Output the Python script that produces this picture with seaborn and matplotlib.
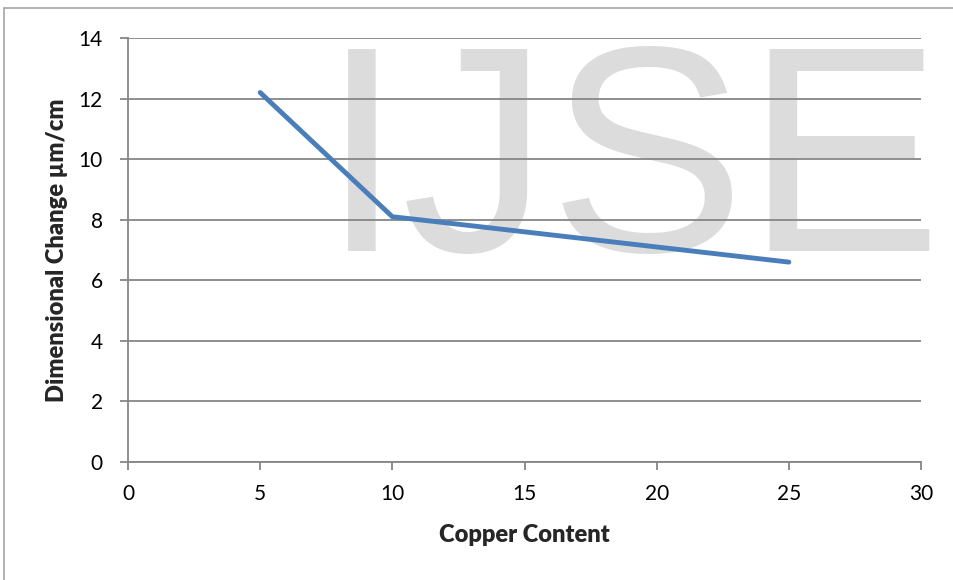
#!/usr/bin/env python3
# coding: utf-8

import pandas as pd
import matplotlib
matplotlib.use("Agg")
import matplotlib.pyplot as plt
import seaborn as sns
from matplotlib.lines import Line2D

# values
copper_content = [5, 10, 15, 20, 25]
dimensional_change = [12.2, 8.1, 7.6, 7.1, 6.6]
x_ticks = [0, 5, 10, 15, 20, 25, 30]
y_ticks = [0, 2, 4, 6, 8, 10, 12, 14]

df = pd.DataFrame({"Copper Content": copper_content,
                   "Dimensional Change": dimensional_change})

sns.set_theme(style="white")
plt.rcParams["font.family"] = ["Lato", "DejaVu Sans"]

grey = "#868686"

fig = plt.figure(figsize=(9.54, 5.80), dpi=100)
ax = fig.add_axes([128 / 954, 1 - 462 / 580, (921 - 128) / 954, (462 - 38) / 580])

# watermark: light grey letters over the grid, under the data line
fig.text(632 / 954, 1 - 251 / 580, "IJSE", fontsize=212, color="#d9d9d9",
         ha="center", va="baseline", family="Liberation Sans", zorder=1, alpha=0.9)

ax.set_zorder(2)
ax.patch.set_alpha(0)

sns.lineplot(data=df, x="Copper Content", y="Dimensional Change", ax=ax,
             color="#4a7ebb", linewidth=3.5, solid_capstyle="round", zorder=3)

ax.set_xlim(0, 30)
ax.set_ylim(0, 14)
ax.set_xticks(x_ticks)
ax.set_yticks(y_ticks)
ax.yaxis.grid(True, color=grey, linewidth=1.3)
ax.set_axisbelow(True)

for side in ["top", "right"]:
    ax.spines[side].set_visible(False)
for side in ["left", "bottom"]:
    ax.spines[side].set_color(grey)
    ax.spines[side].set_linewidth(1.3)

ax.tick_params(axis="both", direction="out", length=6, width=1.3, color=grey,
               labelsize=15, labelcolor="black")
ax.tick_params(axis="x", bottom=True, pad=10)
ax.tick_params(axis="y", left=True, pad=12)

ax.set_xlabel("Copper Content", fontsize=17, fontweight="heavy", labelpad=14)
ax.set_ylabel("Dimensional Change µm/cm", fontsize=17, fontweight="heavy", labelpad=8)

# outer chart border like the source image
fig.add_artist(Line2D([4 / 954, 4 / 954], [0, 1 - 8 / 580], transform=fig.transFigure,
                      color="#a6a6a6", linewidth=1.2))
fig.add_artist(Line2D([4 / 954, 1], [1 - 8 / 580, 1 - 8 / 580], transform=fig.transFigure,
                      color="#a6a6a6", linewidth=1.2))

plt.savefig("out.png", dpi=100)
